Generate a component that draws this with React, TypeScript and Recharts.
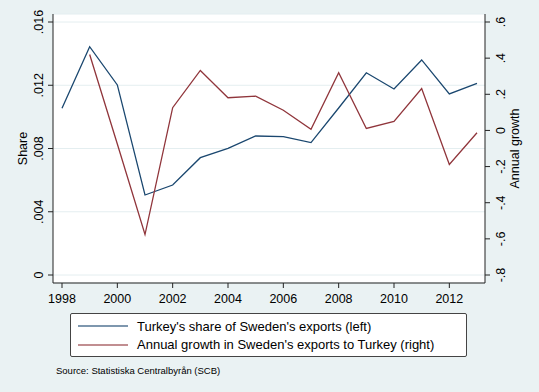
import React from 'react'
import {
  LineChart,
  Line,
  XAxis,
  YAxis,
  CartesianGrid,
} from 'recharts'

const years = [1998, 1999, 2000, 2001, 2002, 2003, 2004, 2005, 2006, 2007, 2008, 2009, 2010, 2011, 2012, 2013]
const shareValues = [0.01054, 0.01444, 0.01202, 0.00506, 0.00569, 0.00742, 0.00801, 0.00879, 0.00875, 0.00837, 0.01056, 0.01279, 0.01176, 0.0136, 0.01145, 0.01212]
const growthValues = [null, 0.42, -0.075, -0.576, 0.126, 0.332, 0.181, 0.19, 0.112, 0.006, 0.319, 0.011, 0.05, 0.232, -0.188, -0.013]

const xTicks = [1998, 2000, 2002, 2004, 2006, 2008, 2010, 2012]
const shareTicks = [0, 0.004, 0.008, 0.012, 0.016]
const shareTickLabels = ['0', '.004', '.008', '.012', '.016']
const growthTicks = [-0.8, -0.6, -0.4, -0.2, 0, 0.2, 0.4, 0.6]
const growthTickLabels = ['-.8', '-.6', '-.4', '-.2', '0', '.2', '.4', '.6']

const seriesNames = [
  "Turkey's share of Sweden's exports (left)",
  "Annual growth in Sweden's exports to Turkey (right)",
]

const data = years.map((year, i) => ({
  year,
  share: shareValues[i],
  growth: growthValues[i],
}))

const FONT = '"Liberation Sans", Arial, Helvetica, sans-serif'
const BLUE = '#1a476f'
const RED = '#90353b'
const BG = '#eaf2f3'

const RotatedTick = (labels: string[], ticks: number[]) => (props: any) => {
  const { x, y, payload } = props
  const idx = ticks.findIndex((t) => Math.abs(t - payload.value) < 1e-9)
  return (
    <text
      x={x}
      y={y}
      transform={`rotate(-90 ${x} ${y})`}
      textAnchor="middle"
      fontSize={12.5}
      fontFamily={FONT}
      fill="#000"
    >
      {idx >= 0 ? labels[idx] : payload.value}
    </text>
  )
}

const App: React.FC = () => {
  return (
    <div style={{ position: 'absolute', left: 0, top: 0, width: 539, height: 392, background: BG, fontFamily: FONT }}>
      <LineChart
        width={539}
        height={392}
        data={data}
        margin={{ top: 14, right: 0, left: 0, bottom: 84 }}
      >
        <CartesianGrid yAxisId="left" vertical={false} stroke="#e4eef0" fill="#fff" />
        <XAxis
          dataKey="year"
          type="number"
          domain={[1998, 2013]}
          ticks={xTicks}
          padding={{ left: 9, right: 8 }}
          height={25}
          tickSize={5}
          tickMargin={6}
          stroke="#222"
          tick={{ fill: '#000', fontSize: 12.5, fontFamily: FONT }}
        />
        <YAxis
          yAxisId="left"
          orientation="left"
          width={53}
          domain={[0, 0.016]}
          ticks={shareTicks}
          padding={{ top: 8, bottom: 8 }}
          tickSize={5}
          tickMargin={5}
          stroke="#222"
          tick={RotatedTick(shareTickLabels, shareTicks)}
          label={{ value: 'Share', angle: -90, position: 'center', dx: -3.5, fontSize: 12.5, fontFamily: FONT, fill: '#000' }}
        />
        <YAxis
          yAxisId="right"
          orientation="right"
          width={54}
          domain={[-0.8, 0.6]}
          ticks={growthTicks}
          padding={{ top: 8, bottom: 8 }}
          tickSize={5}
          tickMargin={15}
          stroke="#222"
          tick={RotatedTick(growthTickLabels, growthTicks)}
          label={{ value: 'Annual growth', angle: -90, position: 'center', dx: 3, fontSize: 12.5, fontFamily: FONT, fill: '#000' }}
        />
        <Line
          yAxisId="left"
          dataKey="share"
          stroke={BLUE}
          strokeWidth={1.3}
          dot={false}
          isAnimationActive={false}
        />
        <Line
          yAxisId="right"
          dataKey="growth"
          stroke={RED}
          strokeWidth={1.3}
          dot={false}
          isAnimationActive={false}
        />
      </LineChart>
      <div
        style={{
          position: 'absolute',
          left: 70,
          top: 313,
          width: 395,
          height: 42,
          border: '1px solid #444',
          borderRadius: 2,
          background: '#fff',
          boxSizing: 'content-box',
        }}
      >
        {seriesNames.map((name, i) => (
          <div
            key={name}
            style={{ position: 'absolute', left: 0, top: 3 + i * 18.5, height: 18, display: 'flex', alignItems: 'center' }}
          >
            <svg width={66} height={18}>
              <line x1={7} x2={57} y1={9} y2={9} stroke={i === 0 ? BLUE : RED} strokeOpacity={0.75} strokeWidth={1.3} />
            </svg>
            <span style={{ fontSize: 13, color: '#000', whiteSpace: 'nowrap' }}>{name}</span>
          </div>
        ))}
      </div>
      <div style={{ position: 'absolute', left: 56, top: 365, fontSize: 9.5, color: '#000', whiteSpace: 'nowrap' }}>
        Source: Statistiska Centralbyrån (SCB)
      </div>
    </div>
  )
}

export default App
